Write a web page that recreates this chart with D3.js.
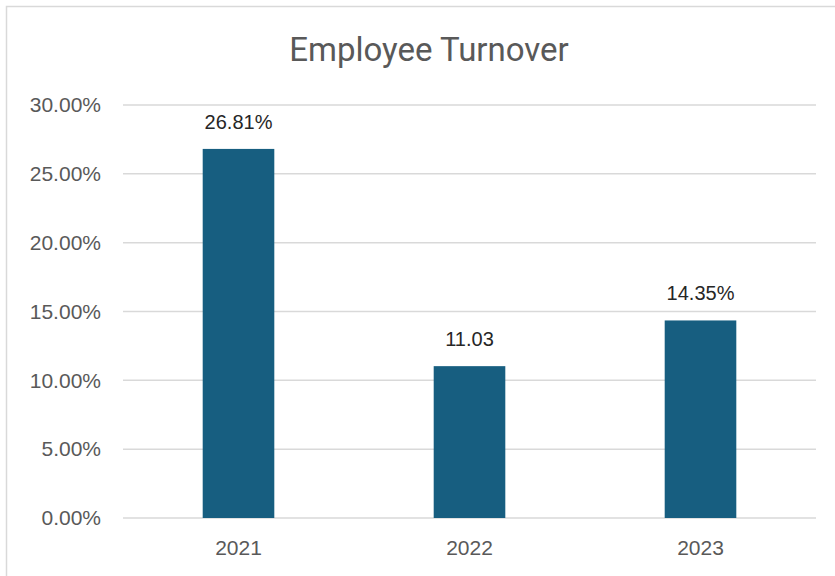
<!DOCTYPE html>
<html>
<head>
<meta charset="utf-8">
<script src="https://cdn.jsdelivr.net/npm/d3@7"></script>
<style>
  body { margin: 0; background: #fff; }
  svg { display: block; }
</style>
</head>
<body>
<svg width="835" height="576"></svg>
<script>
// data
const years = ['2021', '2022', '2023'];
const turnover = [26.81, 11.03, 14.35];
const valueLabels = ['26.81%', '11.03', '14.35%'];
const yTicks = [0, 5, 10, 15, 20, 25, 30];

const svg = d3.select('svg');

// chart frame
svg.append('rect')
    .attr('x', 6.5).attr('y', 6.5)
    .attr('width', 840).attr('height', 590)
    .style('fill', '#fff')
    .style('stroke', '#d9d9d9')
    .style('stroke-width', 1.5);

svg.append('text')
    .attr('x', 429).attr('y', 61)
    .attr('text-anchor', 'middle')
    .style('font-family', 'Roboto, sans-serif')
    .style('font-size', '33px')
    .style('fill', '#595959')
    .text('Employee Turnover');

const x = d3.scaleBand().domain(years).range([123, 816]).paddingInner(0.69).paddingOuter(0.345);
const y = d3.scaleLinear().domain([0, 30]).range([518, 105]);

// gridlines
svg.append('g')
    .selectAll('line')
    .data(yTicks)
    .enter()
    .append('line')
    .attr('x1', 123).attr('x2', 816)
    .attr('y1', d => y(d)).attr('y2', d => y(d))
    .style('stroke', '#d9d9d9')
    .style('stroke-width', 1.5);

// y axis labels
const yAxis = svg.append('g')
    .attr('transform', 'translate(101, 0)')
    .call(d3.axisLeft(y).tickValues(yTicks).tickSize(0).tickPadding(0).tickFormat(d => d.toFixed(2) + '%'));
yAxis.select('.domain').remove();
yAxis.selectAll('text')
    .style('font-family', '"Liberation Sans", Arial, sans-serif')
    .style('font-size', '21px')
    .style('fill', '#595959');

// x axis labels
const xAxis = svg.append('g')
    .attr('transform', 'translate(0, 540)')
    .call(d3.axisBottom(x).tickSize(0).tickPadding(0));
xAxis.select('.domain').remove();
xAxis.selectAll('text')
    .style('font-family', '"Liberation Sans", Arial, sans-serif')
    .style('font-size', '21px')
    .style('fill', '#595959');

// bars
svg.append('g')
    .selectAll('rect')
    .data(turnover)
    .enter()
    .append('rect')
    .attr('x', (d, i) => x(years[i]))
    .attr('y', d => y(d))
    .attr('width', x.bandwidth())
    .attr('height', d => y(0) - y(d))
    .style('fill', '#175E80');

// value labels
svg.append('g')
    .selectAll('text')
    .data(turnover)
    .enter()
    .append('text')
    .attr('x', (d, i) => x(years[i]) + x.bandwidth() / 2)
    .attr('y', d => y(d) - 20)
    .attr('text-anchor', 'middle')
    .style('font-family', '"Liberation Sans", Arial, sans-serif')
    .style('font-size', '20px')
    .style('fill', '#262626')
    .text((d, i) => valueLabels[i]);
</script>
</body>
</html>
